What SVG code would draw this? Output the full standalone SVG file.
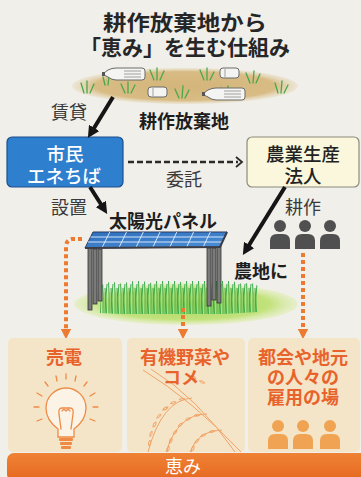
<svg xmlns="http://www.w3.org/2000/svg" width="361" height="477" viewBox="0 0 361 477">
<defs>
<style>
.jp{font-family:"Noto Sans CJK JP","Noto Sans",sans-serif}
.title{font-size:21px;font-weight:700;fill:#262626}
.lbl{font-size:18px;fill:#3a3a3a}
.lblb{font-size:18px;font-weight:700;fill:#1e1e1e}
.box-t{font-size:18.5px;font-weight:500}
.org{font-size:18px;font-weight:700;fill:#e8632b}
.arrow{stroke:#151515;stroke-width:4;fill:none}
.dot{stroke:#ec7a30;stroke-width:4;stroke-dasharray:4 3;fill:none}
.panel{fill:#f5e5c8}
.tuft{stroke:#4aa84a;stroke-width:1.3;fill:none;stroke-linecap:round}
.bottle{fill:#f4f4f2;stroke:#6a6a6a;stroke-width:1}
.rice{stroke:#f0a468;stroke-width:1;fill:none}
.grain{fill:none;stroke:#f0a468;stroke-width:0.9}
</style>
<marker id="ah" viewBox="0 0 10 10" refX="5" refY="5" markerWidth="3" markerHeight="3" orient="auto">
<path d="M0,0 L10,5 L0,10 z" fill="#151515"/>
</marker>
<marker id="oh" viewBox="0 0 10 10" refX="3" refY="5" markerWidth="2.6" markerHeight="2.6" orient="auto">
<path d="M0,0 L10,5 L0,10 z" fill="#ec7a30"/>
</marker>
<radialGradient id="dirt" cx="0.5" cy="0.5" r="0.5">
<stop offset="0" stop-color="#d4b57a"/>
<stop offset="0.8" stop-color="#d8bc84"/>
<stop offset="1" stop-color="#e6d8b8" stop-opacity="0.4"/>
</radialGradient>
<radialGradient id="field" cx="0.5" cy="0.5" r="0.5">
<stop offset="0" stop-color="#a8d65a"/>
<stop offset="0.75" stop-color="#c2e27c"/>
<stop offset="1" stop-color="#dfeeb0" stop-opacity="0.5"/>
</radialGradient>
<linearGradient id="solar" x1="0" y1="0" x2="1" y2="1">
<stop offset="0" stop-color="#2f6fbd"/>
<stop offset="1" stop-color="#4a8fd6"/>
</linearGradient>
<linearGradient id="bar" x1="0" y1="0" x2="0" y2="1">
<stop offset="0" stop-color="#ef8236"/>
<stop offset="1" stop-color="#e5681f"/>
</linearGradient>
<pattern id="grass" patternUnits="userSpaceOnUse" x="0" y="278" width="6" height="36">
<path d="M1,36 Q1.5,18 0.5,3 M3,36 Q3.5,20 5,6 M4.5,36 Q4,22 3,10" stroke="#3aab4a" stroke-width="1" fill="none"/>
<path d="M2,36 Q2.5,24 2,14" stroke="#74c860" stroke-width="0.8" fill="none"/>
</pattern>
<g id="person">
<circle cx="0" cy="0" r="6"/>
<path d="M-10,23 L-10,15 Q-10,8 -3,8 L3,8 Q10,8 10,15 L10,23 z"/>
</g>
<g id="bottleL">
<path class="bottle" d="M0,6 L4,3 Q8,1 12,1 L38,1 Q41,1 41,4 L41,10 Q41,13 38,13 L12,13 Q8,13 4,10 L0,8 z"/>
<rect x="-2" y="5" width="3" height="4" fill="#555"/>
<path d="M20,4 H37 M20,7 H37 M20,10 H37" stroke="#8a8a8a" stroke-width="0.8"/>
</g>
<g id="bottleS">
<rect class="bottle" x="0" y="0" width="19" height="10" rx="3"/>
<path d="M5,1 V9" stroke="#8a8a8a" stroke-width="0.8"/>
</g>
<!-- one rice grain, pointing along +x -->
<path id="grain" d="M0,0 Q3,-2.2 6,0 Q3,2.2 0,0 z"/>
</defs>

<rect width="361" height="477" fill="#f0efea"/>

<!-- heading -->
<g id="title" class="jp title" text-anchor="middle">
<text x="185" y="30" textLength="164" lengthAdjust="spacingAndGlyphs">耕作放棄地から</text>
<text x="185" y="55" textLength="210" lengthAdjust="spacingAndGlyphs">「恵み」を生む仕組み</text>
</g>

<!-- abandoned farmland -->
<g id="abandoned">
<ellipse cx="185" cy="86" rx="113" ry="18" fill="url(#dirt)"/>
<g class="tuft">
<path d="M84,93 L81,83 M87,93 L87,81 M90,93 L94,84"/>
<path d="M125,93 L121,84 M128,93 L128,82 M131,93 L135,85"/>
<path d="M154,80 L150,70 M157,80 L157,68 M160,80 L164,71"/>
<path d="M179,98 L175,89 M182,98 L183,86 M185,98 L189,90"/>
<path d="M204,80 L200,70 M207,80 L207,68 M210,80 L214,72"/>
<path d="M224,97 L221,88 M227,97 L228,86 M230,97 L234,89"/>
<path d="M250,83 L246,73 M253,83 L254,71 M256,83 L260,74"/>
<path d="M278,93 L275,83 M281,93 L282,81 M284,93 L288,85"/>
<path d="M105,85 L103,77 M108,85 L109,76"/>
</g>
<use href="#bottleL" x="104" y="67"/>
<use href="#bottleS" x="220" y="68"/>
<use href="#bottleS" x="148" y="87"/>
<use href="#bottleL" x="204" y="87"/>
<text class="jp lblb" x="184" y="128" text-anchor="middle" font-size="17">耕作放棄地</text>
</g>

<!-- citizen energy company -->
<g id="shimin">
<rect x="7" y="137" width="116" height="50" rx="5" fill="#2f7fcf" stroke="#1c4f8c" stroke-width="1.2"/>
<text class="jp box-t" x="65" y="161" text-anchor="middle" fill="#ffffff">市民</text>
<text class="jp box-t" x="64" y="183" text-anchor="middle" fill="#ffffff">エネちば</text>
</g>

<!-- agricultural corporation -->
<g id="nogyo">
<rect x="247" y="137" width="112" height="50" rx="5" fill="#fbf7dd" stroke="#8b8b7c" stroke-width="1.2"/>
<text class="jp box-t" x="303" y="161" text-anchor="middle" fill="#222">農業生産</text>
<text class="jp box-t" x="303" y="183" text-anchor="middle" fill="#222">法人</text>
</g>

<!-- solar sharing field -->
<g id="solar-field">
<ellipse cx="186" cy="304" rx="112" ry="21" fill="url(#field)"/>
<path d="M100,313 L100,286 Q110,279 122,284 Q135,278 150,283 Q165,277 180,282 Q195,277 210,282 Q228,278 242,284 Q252,281 258,286 L258,312 Q180,318 100,313 z" fill="url(#grass)"/>
<g fill="#7b7b7b" stroke="#333" stroke-width="0.8">
<rect x="88" y="248" width="4" height="62"/>
<rect x="93" y="249" width="4" height="55"/>
<rect x="98" y="249" width="4" height="52"/>
<rect x="207" y="248" width="4" height="58"/>
<rect x="212" y="248" width="4" height="52"/>
<rect x="217" y="241" width="4" height="62"/>
</g>
<polygon points="93,232 227,232 220,247 85,248" fill="url(#solar)" stroke="#2a3b5e" stroke-width="1"/>
<g stroke="#e6f0ff" stroke-width="0.9">
<path d="M109.8,232 L101.9,248 M126.5,232 L118.8,248 M143.3,232 L135.7,248 M160,232 L152.5,248 M176.8,232 L169.4,248 M193.5,232 L186.3,248 M210.3,232 L203.2,247"/>
<path d="M90.5,237 L224.7,237 M88,242 L222.3,242"/>
</g>
<path d="M85,248 L220,247 L227,232" stroke="#3d3d45" stroke-width="2" fill="none"/>
<text class="jp lblb" x="163" y="228" text-anchor="middle" font-size="19">太陽光パネル</text>
</g>

<!-- farm workers -->
<g id="workers" fill="#505050">
<use href="#person" x="280" y="226"/>
<use href="#person" x="305" y="226"/>
<use href="#person" x="330" y="226"/>
</g>

<!-- connectors -->
<g id="connectors">
<path class="arrow" d="M113,97 L91,133" marker-end="url(#ah)"/>
<path class="arrow" d="M90,187 L104,209" marker-end="url(#ah)"/>
<path class="arrow" d="M285,187 L246,250" marker-end="url(#ah)"/>
<path d="M128,162 L238,162" stroke="#2a2a2a" stroke-width="2.6" stroke-dasharray="6 3" fill="none"/>
<path d="M236,157 L242,162 L236,167" stroke="#2a2a2a" stroke-width="1.8" fill="none"/>
<path class="dot" d="M82,239 L72,239 Q66,240 66,247 L66,332" marker-end="url(#oh)"/>
<path class="dot" d="M183,308 L183,332" marker-end="url(#oh)"/>
<path class="dot" d="M303,253 L303,332" marker-end="url(#oh)"/>
<text class="jp lbl" x="69" y="119" text-anchor="middle">賃貸</text>
<text class="jp lbl" x="69" y="214" text-anchor="middle">設置</text>
<text class="jp lbl" x="184" y="186" text-anchor="middle" fill="#555">委託</text>
<text class="jp lbl" x="303" y="214" text-anchor="middle">耕作</text>
<text class="jp lblb" x="261" y="278" text-anchor="middle">農地に</text>
</g>

<!-- benefits: electricity -->
<g id="baiden">
<rect class="panel" x="8" y="338" width="114" height="114" rx="5"/>
<text class="jp org" x="64" y="364" text-anchor="middle">売電</text>
<g stroke="#ef8a45" stroke-width="1.3" fill="none" stroke-linecap="round">
<path d="M58,429 Q46,420 46,408 A20,20 0 1 1 86,408 Q86,420 74,429 L74,437 L58,437 z" fill="#fbf3e6"/>
<path d="M61,429 L59,414 Q58,408 62,408 L70,408 Q74,408 73,414 L71,429"/>
<path d="M62,411 Q64,408 66,411 Q68,408 70,411"/>
<path d="M34,407 H39 M93,407 H98 M37,393 L42,396 M95,393 L90,396 M45,382 L48,386 M87,382 L84,386 M56,376 L57,381 M76,376 L75,381 M66,374 V379 M37,421 L42,419 M95,421 L90,419"/>
</g>
<g fill="#ef8a45">
<rect x="59" y="438" width="14" height="3" rx="1"/>
<rect x="60" y="442" width="12" height="3" rx="1"/>
<rect x="61" y="446" width="10" height="3" rx="1"/>
</g>
</g>

<!-- benefits: organic vegetables and rice -->
<g id="yasai">
<rect class="panel" x="127" y="338" width="118" height="114" rx="5"/>
<g class="rice">
<path d="M143,370 Q192,400 241,452"/>
<path d="M151,369 Q198,398 235,452"/>
<path d="M192,398 Q162,400 148,452"/>
<path d="M207,414 Q178,414 166,452"/>
<path d="M222,430 Q198,430 190,452"/>
</g>
<g class="grain">
<use href="#grain" transform="translate(185,399) rotate(175)"/>
<use href="#grain" transform="translate(176,402) rotate(165)"/>
<use href="#grain" transform="translate(168,407) rotate(150)"/>
<use href="#grain" transform="translate(161,414) rotate(135)"/>
<use href="#grain" transform="translate(156,422) rotate(120)"/>
<use href="#grain" transform="translate(152,431) rotate(110)"/>
<use href="#grain" transform="translate(150,440) rotate(100)"/>
<use href="#grain" transform="translate(200,415) rotate(175)"/>
<use href="#grain" transform="translate(191,418) rotate(160)"/>
<use href="#grain" transform="translate(183,423) rotate(145)"/>
<use href="#grain" transform="translate(177,430) rotate(130)"/>
<use href="#grain" transform="translate(172,438) rotate(115)"/>
<use href="#grain" transform="translate(169,446) rotate(105)"/>
<use href="#grain" transform="translate(215,431) rotate(170)"/>
<use href="#grain" transform="translate(206,434) rotate(155)"/>
<use href="#grain" transform="translate(199,439) rotate(135)"/>
<use href="#grain" transform="translate(194,446) rotate(115)"/>
<use href="#grain" transform="translate(205,383) rotate(200)"/>
<use href="#grain" transform="translate(196,379) rotate(210)"/>
</g>
<text class="jp org" x="185" y="364" text-anchor="middle">有機野菜や</text>
<text class="jp org" x="181" y="384" text-anchor="middle">コメ</text>
</g>

<!-- benefits: jobs -->
<g id="koyo">
<rect class="panel" x="248" y="338" width="112" height="114" rx="5"/>
<text class="jp org" x="303" y="364" text-anchor="middle">都会や地元</text>
<text class="jp org" x="303" y="384" text-anchor="middle">の人々の</text>
<text class="jp org" x="303" y="404" text-anchor="middle">雇用の場</text>
<g fill="#f0a352">
<use href="#person" x="278" y="426"/>
<use href="#person" x="303" y="426"/>
<use href="#person" x="330" y="426"/>
</g>
</g>

<!-- benefit band -->
<g id="megumi">
<rect x="7" y="453" width="360" height="28" rx="7" fill="url(#bar)"/>
<text class="jp" x="183" y="473" text-anchor="middle" font-size="18" fill="#ffffff">恵み</text>
</g>
</svg>
